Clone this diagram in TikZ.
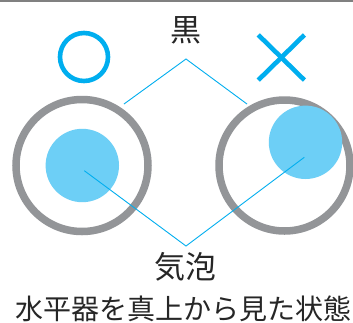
\documentclass[tikz,border=0pt]{standalone}
\usepackage{fontspec}
\newfontfamily\jp{Noto Sans CJK JP}
\definecolor{cyanline}{HTML}{00AEEF}
\definecolor{bubble}{HTML}{6DCFF6}
\definecolor{ringgray}{HTML}{939598}
\definecolor{topgray}{HTML}{808080}
\tikzset{
  ring/.style={draw=ringgray, line width=7.5pt},
  bub/.style={fill=bubble},
  lead/.style={draw=cyanline, line width=0.9pt},
  symbolmark/.style={draw=cyanline, line width=4.6pt},
  lbl/.style={inner sep=0pt, font=\jp\fontsize{31}{31}\selectfont, text=black!85},
}
\begin{document}
\begin{tikzpicture}[x=1pt,y=-1pt]
\useasboundingbox (0,0) rectangle (353,322);
\fill[white] (0,0) rectangle (353,322);
\fill[topgray] (0,0) rectangle (353,1.7);
% symbols
\draw[symbolmark] (84,57) circle (24);
\draw[symbolmark] (258.3,34.9) -- (304.4,80.1);
\draw[symbolmark] (258.3,80.1) -- (304.4,34.9);
% rings
\draw[ring] (82,165.5) circle (66);
\draw[ring] (284.5,165.5) circle (65.5);
% bubbles
\fill[bub] (82.3,165.5) circle (36.7);
\fill[bub] (305.5,142.3) circle (36.7);
% labels
\node[lbl, anchor=base] (kuro) at (186,41.5) {黒};
\node[lbl, anchor=base] (kihou) at (185,278.5) {気泡};
\node[inner sep=0pt, anchor=base west, text depth=0pt, font=\jp\fontsize{28}{28}\selectfont, text=black!85] (title) at (15,319) {水平器を真上から見た状態};
% leader lines
\coordinate (topapex) at (186,59);
\coordinate (lring) at (124,104);
\coordinate (rring) at (247,104);
\coordinate (botapex) at (186,246);
\coordinate (lbub) at (84.3,170.7);
\coordinate (rbub) at (304.3,157.3);
\draw[lead] (lring) -- (topapex) -- (rring);
\draw[lead] (lbub) -- (botapex) -- (rbub);
\end{tikzpicture}
\end{document}
